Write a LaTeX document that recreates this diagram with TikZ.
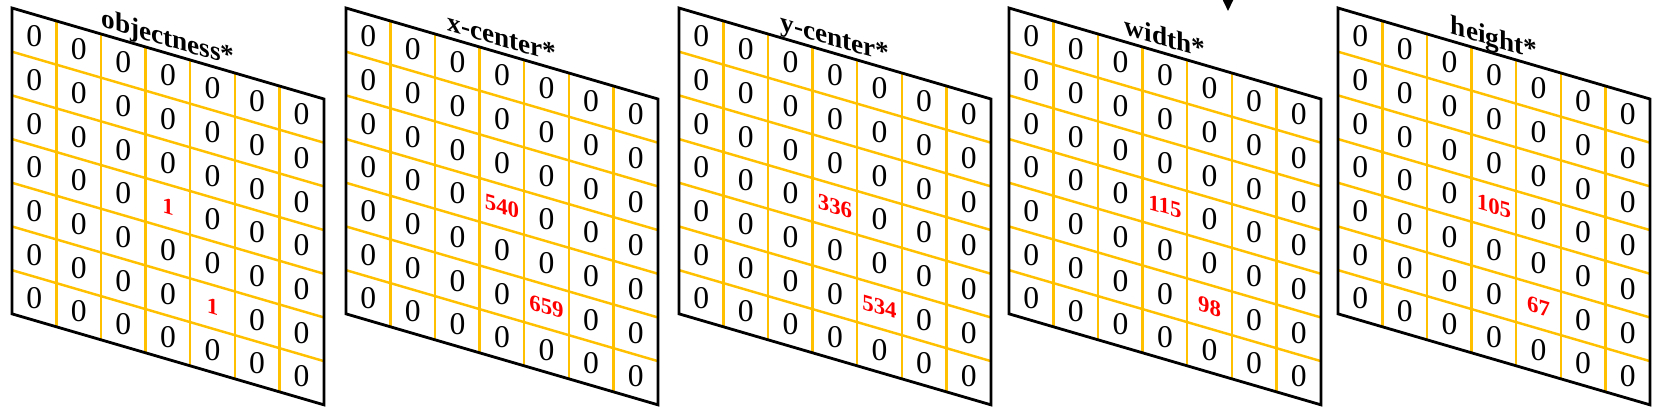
\documentclass[tikz,border=0pt]{standalone}
\usepackage{fontspec}
\setmainfont{Liberation Serif}
\usetikzlibrary{arrows.meta}
\definecolor{gridgold}{RGB}{255,192,0}

\begin{document}
\begin{tikzpicture}[
  x=0.02cm, y=-0.02cm,
  frame/.style={line width=1.6pt, line join=miter},
  gline/.style={draw=gridgold, line width=1.4pt},
  zero/.style={font=\fontsize{18}{18}\selectfont, inner sep=0pt},
  hit/.style={font=\fontsize{13}{13}\selectfont\bfseries, text=red, yslant=-0.2926, inner sep=0pt},
  title/.style={font=\fontsize{15.5}{15.5}\selectfont\bfseries, anchor=base, yshift=4pt, yslant=-0.2926, inner sep=0pt},
  arr/.style={-{Triangle[length=0.22cm, width=0.2cm]}, line width=1pt}
]
\useasboundingbox (0,0) rectangle (1656,414);
\foreach \xl/\ttl/\va/\vb/\p in {12/objectness*/1/1/a, 346/x-center*/540/659/b, 679/y-center*/336/534/c, 1009/width*/115/98/d, 1338/height*/105/67/e} {
  \begin{scope}[shift={(\xl,8)}, x={(0.8914cm,-0.26cm)}, y={(0cm,-0.874cm)}]
    \foreach \k in {1,...,6} {
      \draw[gline] (\k,0) -- (\k,7);
      \draw[gline] (0,\k) -- (7,\k);
    }
    \foreach \i in {0,...,6} \foreach \j in {0,...,6} {
      \pgfmathtruncatemacro\isred{(\i==3 && \j==3) || (\i==4 && \j==5)}
      \ifnum\isred=0 \node[zero] (\p-\i-\j) at (\i+.5,\j+.5) {0}; \fi
    }
    \node[hit] (\p-3-3) at (3.5,3.5) {\va};
    \node[hit] (\p-4-5) at (4.5,5.5) {\vb};
    \node[title] (\p-t) at (3.5,0) {\ttl};
    \draw[frame] (0,0) -- (7,0) -- (7,7) -- (0,7) -- cycle;
  \end{scope}
}
\coordinate (src) at (1228,-30);
\coordinate (dst) at (1228,11);
\draw[arr] (src) -- (dst);
\end{tikzpicture}
\end{document}
